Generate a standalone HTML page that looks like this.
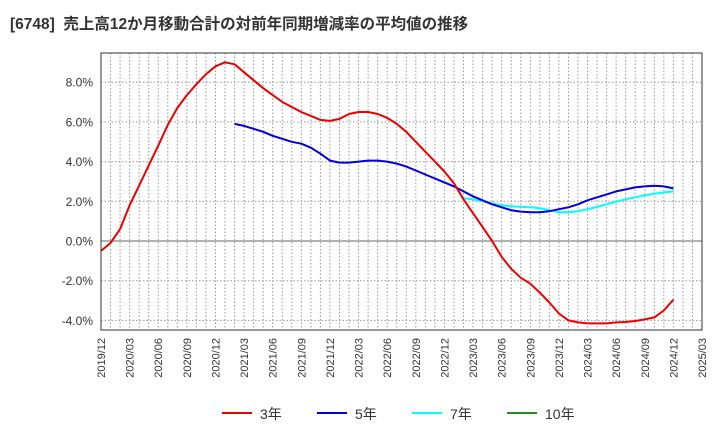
<!DOCTYPE html>
<html><head><meta charset="utf-8"><style>
body{margin:0;background:#fff;}
svg{display:block;font-family:"Liberation Sans","Noto Sans CJK JP",sans-serif;}
</style></head><body>
<svg id="c" width="720" height="440">
<text x="10" y="29" font-size="15.5" font-weight="bold" fill="#333" xml:space="preserve">[6748]  売上高12か月移動合計の対前年同期増減率の平均値の推移</text>
<g id="grid"></g>
<g id="series"></g>
<rect x="101" y="53" width="601" height="277" fill="none" stroke="#333" stroke-width="1"/>
<g id="legend"></g>
</svg>
<script>
const yTicks=[-4,-2,0,2,4,6,8];
const xTickLabels=["2019/12","2020/03","2020/06","2020/09","2020/12","2021/03","2021/06","2021/09","2021/12","2022/03","2022/06","2022/09","2022/12","2023/03","2023/06","2023/09","2023/12","2024/03","2024/06","2024/09","2024/12","2025/03"];
const s3=[-0.5,-0.1,0.6,1.8,2.8,3.8,4.8,5.85,6.7,7.35,7.9,8.4,8.8,9.0,8.9,8.5,8.1,7.7,7.35,7.0,6.75,6.5,6.3,6.1,6.05,6.15,6.4,6.5,6.5,6.4,6.2,5.9,5.5,5.0,4.5,4.0,3.5,2.9,2.1,1.4,0.7,0.0,-0.8,-1.4,-1.85,-2.15,-2.6,-3.1,-3.65,-4.0,-4.1,-4.15,-4.15,-4.15,-4.1,-4.08,-4.03,-3.95,-3.85,-3.5,-2.95];
const s5Start=14;
const s5=[5.9,5.8,5.65,5.5,5.3,5.15,5.0,4.9,4.7,4.4,4.05,3.95,3.95,4.0,4.05,4.05,4.0,3.9,3.75,3.55,3.35,3.15,2.95,2.75,2.5,2.25,2.05,1.85,1.7,1.55,1.48,1.45,1.45,1.5,1.6,1.7,1.85,2.05,2.2,2.35,2.5,2.6,2.7,2.75,2.78,2.75,2.65];
const s7Start=38;
const s7=[2.15,2.1,2.0,1.9,1.8,1.75,1.72,1.7,1.65,1.55,1.45,1.45,1.5,1.6,1.72,1.85,1.98,2.1,2.2,2.3,2.38,2.45,2.5];
const s10=[];
const NS="http://www.w3.org/2000/svg";
const X0=101,X1=702,NM=63;
const xs=i=>X0+(X1-X0)*i/NM;
const ys=v=>241-v*19.85;
function mk(t,a,p){const e=document.createElementNS(NS,t);for(const k in a)e.setAttribute(k,a[k]);p.appendChild(e);return e;}
const grid=document.getElementById('grid');
for(let i=1;i<NM;i++){
  const l=mk('line',{x1:xs(i),x2:xs(i),y1:53,y2:330,stroke:'#999','stroke-dasharray':'1.5,2','stroke-width':1},grid);
  
  
}
yTicks.forEach(v=>{
  const l=mk('line',{x1:X0,x2:X1,y1:ys(v),y2:ys(v),stroke:v===0?'#666':'#999','stroke-dasharray':v===0?'':'1.5,2','stroke-width':1},grid);
  
  
  const t=mk('text',{x:93,y:ys(v)+4.5,'text-anchor':'end','font-size':12,fill:'#333'},grid);
  t.textContent=v.toFixed(1)+'%';
  
  
});
xTickLabels.forEach((s,k)=>{
  const x=xs(k*3)+4;
  const t=mk('text',{x:x,y:338,'text-anchor':'end','font-size':11,fill:'#333',transform:`rotate(-90 ${x} 338)`},grid);
  t.textContent=s;
  
  
});
const ser=document.getElementById('series');
function line(arr,start,color,name){
  if(!arr.length)return;
  const d=arr.map((v,i)=>(i?'L':'M')+xs(start+i).toFixed(1)+','+ys(v).toFixed(1)).join('');
  const p=mk('path',{d:d,fill:'none',stroke:color,'stroke-width':2,'stroke-linejoin':'round'},ser);
  
  
}
line(s7,s7Start,'#00ffff','line-7yr');
line(s5,s5Start,'#0000dd','line-5yr');
line(s3,0,'#ee0000','line-3yr');
line(s10,0,'#228b22','line-10yr');
const lg=document.getElementById('legend');
[['3年','#ee0000',222],['5年','#0000dd',317],['7年','#00ffff',412],['10年','#228b22',507]].forEach(([n,c,x])=>{
  const g=mk('g',{},lg);
  
  
  mk('line',{x1:x,x2:x+30,y1:413,y2:413,stroke:c,'stroke-width':2},g);
  const t=mk('text',{x:x+38,y:419,'font-size':14,fill:'#333'},g);
  t.textContent=n;
});
</script>
</body></html>
